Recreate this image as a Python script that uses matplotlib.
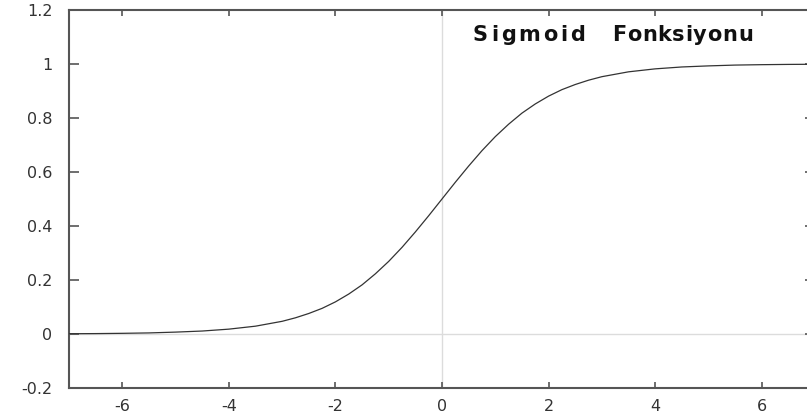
import matplotlib
matplotlib.use("Agg")
import matplotlib.pyplot as plt

# Curve values
x_vals = [-7, -6.5, -6, -5.5, -5, -4.5, -4, -3.5, -3, -2.75, -2.5, -2.25, -2,
          -1.75, -1.5, -1.25, -1, -0.75, -0.5, -0.25, 0, 0.25, 0.5, 0.75, 1,
          1.25, 1.5, 1.75, 2, 2.25, 2.5, 2.75, 3, 3.5, 4, 4.5, 5, 5.5, 6, 6.5, 7]
y_vals = [0.001, 0.0015, 0.0025, 0.004, 0.007, 0.011, 0.018, 0.029, 0.047, 0.060,
          0.076, 0.095, 0.119, 0.148, 0.182, 0.223, 0.269, 0.321, 0.378, 0.438,
          0.5, 0.562, 0.622, 0.679, 0.731, 0.777, 0.818, 0.852, 0.881, 0.905,
          0.924, 0.940, 0.953, 0.971, 0.982, 0.989, 0.993, 0.996, 0.9975,
          0.9985, 0.999]

x_ticks = [-6, -4, -2, 0, 2, 4, 6]
x_tick_labels = ["-6", "-4", "-2", "0", "2", "4", "6"]
y_ticks = [-0.2, 0, 0.2, 0.4, 0.6, 0.8, 1, 1.2]
y_tick_labels = ["-0.2", "0", "0.2", "0.4", "0.6", "0.8", "1", "1.2"]
title_words = ["Sigmoid", "Fonksiyonu"]

plt.rcParams['axes.unicode_minus'] = False
plt.rcParams['font.family'] = ['DejaVu Sans']

W, H = 807, 419
fig = plt.figure(figsize=(W / 100, H / 100), dpi=100)
ax = fig.add_axes([69 / W, (H - 388) / H, (815 - 69) / W, (388 - 10) / H])

ax.axhline(0, color='#dcdcdc', lw=1.0, zorder=1)
ax.axvline(0, color='#dcdcdc', lw=1.0, zorder=1)
ax.plot(x_vals, y_vals, color='#333333', lw=0.9, zorder=3)

ax.set_xlim(-7, 7)
ax.set_ylim(-0.2, 1.2)
ax.set_xticks(x_ticks)
ax.set_xticklabels(x_tick_labels)
ax.set_yticks(y_ticks)
ax.set_yticklabels(y_tick_labels)

for s in ax.spines.values():
    s.set_color('#555555')
    s.set_linewidth(1.5)

ax.tick_params(axis='x', direction='in', length=4.5, width=1.2, color='#555555',
               top=True, bottom=True, labelsize=11.5, labelcolor='#333333', pad=8)
ax.tick_params(axis='y', direction='in', length=7.5, width=1.2, color='#555555',
               left=True, right=True, labelsize=11.5, labelcolor='#333333', pad=12)

# Letter-spaced title, drawn character by character as real text
fig.canvas.draw()
renderer = fig.canvas.get_renderer()
spans = [(473, 585), (612, 753)]
baseline_y = (H - 41) / H
fs = 15
for word, (x0, x1) in zip(title_words, spans):
    widths = []
    for ch in word:
        t = fig.text(0, 0, ch, fontsize=fs, fontweight='bold', color='#111111')
        widths.append(t.get_window_extent(renderer).width)
        t.remove()
    total = sum(widths)
    gap = ((x1 - x0) - total) / max(len(word) - 1, 1)
    cx = x0
    for ch, w in zip(word, widths):
        fig.text(cx / W, baseline_y, ch, fontsize=fs, fontweight='bold',
                 color='#111111', va='baseline', ha='left')
        cx += w + gap

fig.savefig("out.png", dpi=100)
